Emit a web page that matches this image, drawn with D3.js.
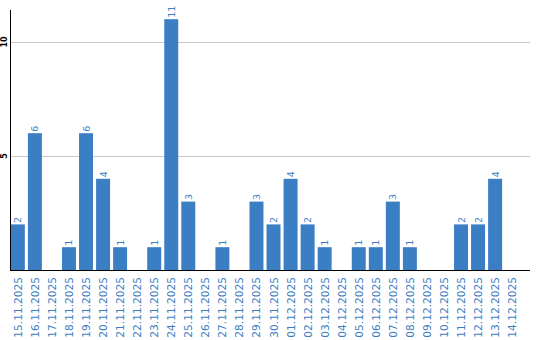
<!DOCTYPE html>
<html>
<head>
<meta charset="utf-8">
<script src="https://cdn.jsdelivr.net/npm/d3@7"></script>
<style>
  body { margin: 0; background: #fff; }
  text { font-family: "DejaVu Sans", sans-serif; }
</style>
</head>
<body>
<svg width="540" height="340"></svg>
<script>
var dates = ["15.11.2025","16.11.2025","17.11.2025","18.11.2025","19.11.2025","20.11.2025",
  "21.11.2025","22.11.2025","23.11.2025","24.11.2025","25.11.2025","26.11.2025","27.11.2025",
  "28.11.2025","29.11.2025","30.11.2025","01.12.2025","02.12.2025","03.12.2025","04.12.2025",
  "05.12.2025","06.12.2025","07.12.2025","08.12.2025","09.12.2025","10.12.2025","11.12.2025",
  "12.12.2025","13.12.2025","14.12.2025"];
var counts = [2,6,0,1,6,4,1,0,1,11,3,0,1,0,3,2,4,2,1,0,1,1,3,1,0,0,2,2,4,0];
var yTicks = [5, 10];

var data = dates.map(function(d, i){ return {date: d, value: counts[i]}; });

var svg = d3.select("svg");
var blue = "#3b7ec4";
var left = 10, right = 530, base = 270;

var x = d3.scaleBand().domain(dates).range([left, 520]).paddingInner(0.18).paddingOuter(0.05);
var y = d3.scaleLinear().domain([0, 10]).range([base, 42]);

// grid lines
svg.selectAll("line.grid").data(yTicks).enter()
  .append("line")
  .attr("x1", left).attr("x2", right)
  .attr("y1", function(d){ return y(d) + 0.5; })
  .attr("y2", function(d){ return y(d) + 0.5; })
  .attr("stroke", "#c8c8c8").attr("stroke-width", 1);

// y tick labels
svg.selectAll("text.ytick").data(yTicks).enter()
  .append("text")
  .attr("transform", function(d){ return "translate(7," + y(d) + ") rotate(-90)"; })
  .attr("text-anchor", "middle")
  .attr("font-size", 8)
  .attr("font-weight", "bold")
  .attr("fill", "#000")
  .text(function(d){ return d; });

// bars
svg.selectAll("rect.bar").data(data).enter()
  .append("rect")
  .attr("x", function(d){ return x(d.date); })
  .attr("y", function(d){ return y(d.value); })
  .attr("width", x.bandwidth())
  .attr("height", function(d){ return base - y(d.value); })
  .attr("fill", blue);

// value labels
svg.selectAll("text.val").data(data.filter(function(d){ return d.value > 0; })).enter()
  .append("text")
  .attr("transform", function(d){
    return "translate(" + (x(d.date) + x.bandwidth() / 2 + 3.5) + "," + (y(d.value) - 1.5) + ") rotate(-90)";
  })
  .attr("text-anchor", "start")
  .attr("font-size", 9.5)
  .attr("fill", blue)
  .text(function(d){ return d.value; });

// axes lines
svg.append("line").attr("x1", left + 0.5).attr("x2", left + 0.5)
  .attr("y1", 10).attr("y2", base + 1).attr("stroke", "#000").attr("stroke-width", 1);
svg.append("line").attr("x1", left).attr("x2", right)
  .attr("y1", base + 0.5).attr("y2", base + 0.5).attr("stroke", "#000").attr("stroke-width", 1);

// x labels
svg.selectAll("text.xlab").data(dates).enter()
  .append("text")
  .attr("transform", function(d){
    return "translate(" + (x(d) + x.bandwidth() / 2 + 4) + "," + (base + 7) + ") rotate(-90)";
  })
  .attr("text-anchor", "end")
  .attr("font-size", 10.6)
  .attr("fill", blue)
  .text(function(d){ return d; });
</script>
</body>
</html>
